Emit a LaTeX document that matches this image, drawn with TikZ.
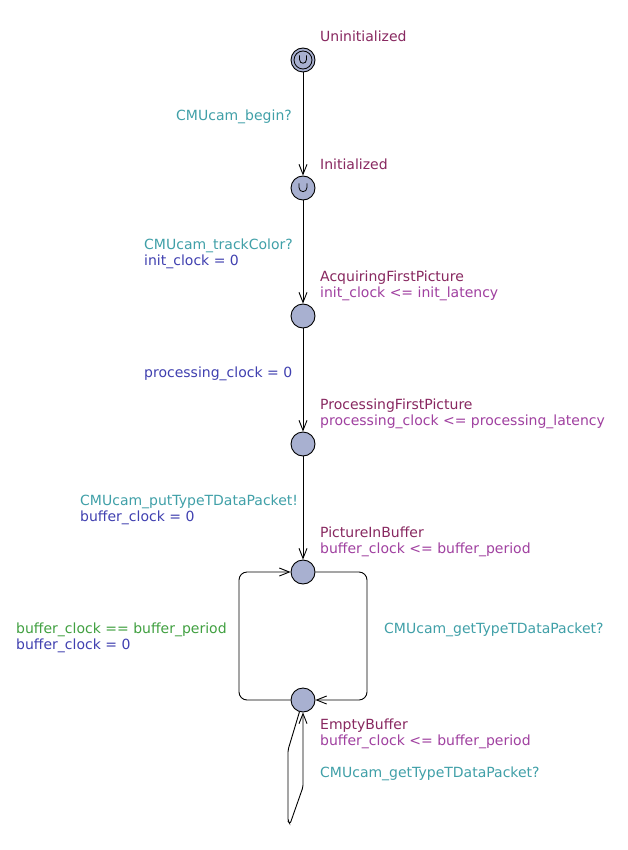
\documentclass[tikz,border=0pt]{standalone}
\usepackage{fontspec}
\setmainfont{DejaVu Sans}
\usetikzlibrary{arrows.meta}
\definecolor{namec}{RGB}{136,40,96}
\definecolor{invc}{RGB}{160,64,160}
\definecolor{syncc}{RGB}{64,160,168}
\definecolor{assc}{RGB}{64,64,176}
\definecolor{guardc}{RGB}{64,160,64}
\definecolor{locfill}{RGB}{168,176,208}
\begin{document}
\begin{tikzpicture}[x=1pt,y=-1pt,
  loc/.style={circle,draw=black,fill=locfill,line width=0.9pt,minimum size=24pt,inner sep=0pt},
  lbl/.style={anchor=base west,inner sep=0pt,font=\fontsize{14}{16}\selectfont},
  edge/.style={draw=black,line width=0.9pt,-{Straight Barb[length=10pt,width=8pt,line width=0.9pt]}},
  cupline/.style={draw=black,line width=0.8pt}]
\useasboundingbox (0,0) rectangle (628,850);
\fill[white] (0,0) rectangle (628,850);

\node[loc] (u) at (303,60) {};
\draw[line width=0.8pt] (303,60) circle[radius=9pt];
\draw[cupline] (299.5,55.5) -- (299.5,59.5) .. controls (299.5,64.5) and (306.5,64.5) .. (306.5,59.5) -- (306.5,55.5);
\node[loc] (i) at (303,188) {};
\draw[cupline] (299,183.5) -- (299,187.5) .. controls (299,193) and (307,193) .. (307,187.5) -- (307,183.5);
\node[loc] (a) at (303,316) {};
\node[loc] (p) at (303,444) {};
\node[loc] (b) at (303,572) {};
\node[loc] (e) at (303,700) {};

\draw[edge] (u) -- (i);
\draw[edge] (i) -- (a);
\draw[edge] (a) -- (p);
\draw[edge] (p) -- (b);
\draw[edge,rounded corners=8pt] (b.east) -- (367,572) -- (367,700) -- (e.east);
\draw[edge,rounded corners=8pt] (e.west) -- (239,700) -- (239,572) -- (b.west);
\coordinate (s1) at (288,750);
\coordinate (s2) at (288,821);
\coordinate (s3) at (290,824);
\coordinate (s4) at (303,787);
\draw[edge,rounded corners=2pt] (e) -- (s1) -- (s2) -- (s3) -- (s4) -- (e);

\node[lbl,text=namec] (nu) at (320,41.5) {Uninitialized};
\node[lbl,text=syncc] (l1) at (176,121) {CMUcam\_begin?};
\node[lbl,text=namec] (ni) at (320,169.5) {Initialized};
\node[lbl,text=syncc] (l2) at (144,249) {CMUcam\_trackColor?};
\node[lbl,text=assc] (l2b) at (144,265) {init\_clock = 0};
\node[lbl,text=namec] (na) at (320,281) {AcquiringFirstPicture};
\node[lbl,text=invc] (ia) at (320,297) {init\_clock <= init\_latency};
\node[lbl,text=assc] (l3) at (144,377) {processing\_clock = 0};
\node[lbl,text=namec] (np) at (320,409) {ProcessingFirstPicture};
\node[lbl,text=invc] (ip) at (320,425) {processing\_clock <= processing\_latency};
\node[lbl,text=syncc] (l4) at (80,505) {CMUcam\_putTypeTDataPacket!};
\node[lbl,text=assc] (l4b) at (80,521) {buffer\_clock = 0};
\node[lbl,text=namec] (nb) at (320,537) {PictureInBuffer};
\node[lbl,text=invc] (ib) at (320,553) {buffer\_clock <= buffer\_period};
\node[lbl,text=guardc] (l5) at (16,633) {buffer\_clock == buffer\_period};
\node[lbl,text=assc] (l5b) at (16,649) {buffer\_clock = 0};
\node[lbl,text=syncc] (l6) at (384,633) {CMUcam\_getTypeTDataPacket?};
\node[lbl,text=namec] (ne) at (320,729) {EmptyBuffer};
\node[lbl,text=invc] (ie) at (320,745) {buffer\_clock <= buffer\_period};
\node[lbl,text=syncc] (l7) at (320,777) {CMUcam\_getTypeTDataPacket?};
\end{tikzpicture}
\end{document}
